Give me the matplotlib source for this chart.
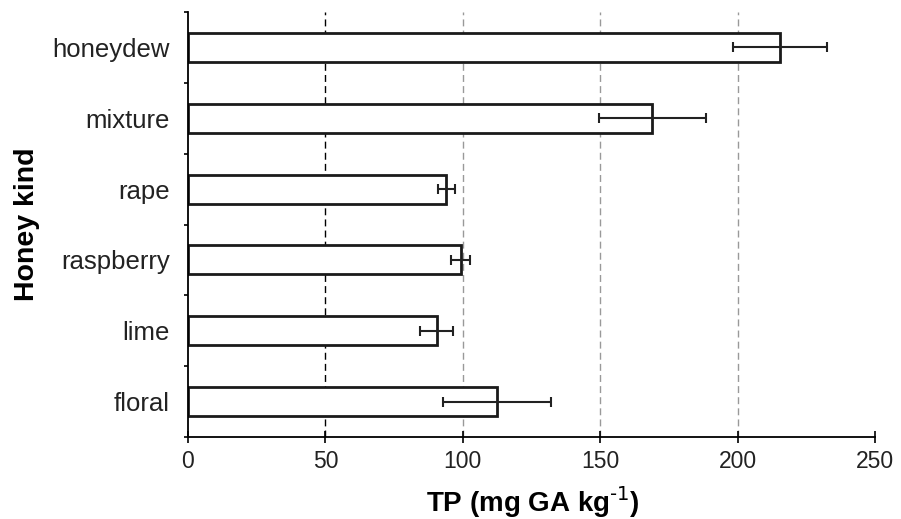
import matplotlib as mpl
import matplotlib.pyplot as plt
import numpy as np

kinds = ['honeydew', 'mixture', 'rape', 'raspberry', 'lime', 'floral']
tp = [215.5, 169.0, 94.0, 99.3, 90.5, 112.4]
tp_err = [17.0, 19.5, 3.0, 3.5, 6.0, 19.6]
xticks = [0, 50, 100, 150, 200, 250]

plt.rcParams['font.family'] = ['Liberation Sans', 'DejaVu Sans']

fig = plt.figure(figsize=(9.01, 5.19), dpi=100, facecolor='white')
ax = fig.add_axes([188 / 901, 1 - 437 / 519, 687 / 901, 425 / 519])

pos = np.arange(len(kinds))

# grid lines behind the bars
for x in xticks[1:-1]:
    col = 'black' if x == 50 else '#999999'
    ax.axvline(x, color=col, linestyle=(0, (5, 3)), linewidth=1.0, zorder=0)

ax.barh(pos, tp, height=0.41, color='white', edgecolor='#1a1a1a',
        linewidth=2.0, zorder=2)
ax.errorbar(tp, pos, xerr=tp_err, fmt='none', ecolor='#222222',
            elinewidth=1.5, capsize=3.5, capthick=1.5, zorder=3)

ax.set_xlim(0, 250)
ax.set_ylim(len(kinds) - 0.5, -0.5)
ax.set_xticks(xticks)
ax.set_yticks(pos)
ax.set_yticklabels(kinds, color='#222222')
ax.set_yticks(np.arange(len(kinds) + 1) - 0.5, minor=True)

ax.spines['top'].set_visible(False)
ax.spines['right'].set_visible(False)
ax.spines['left'].set_linewidth(1.3)
ax.spines['bottom'].set_linewidth(1.3)

ax.tick_params(axis='x', direction='inout', length=8, width=1.2,
               labelsize=16.5, pad=5, labelcolor='#222222')
ax.tick_params(axis='y', which='major', length=0, labelsize=18.5, pad=13)
ax.tick_params(axis='y', which='minor', direction='out', length=3, width=1.2)

ax.set_xlabel('TP (mg GA kg$^{\\text{-1}}$)', fontsize=20,
              fontweight='bold')
ax.xaxis.set_label_coords(0.502, -0.11)
ax.set_ylabel('Honey kind', fontsize=20.5, fontweight='bold')
ax.yaxis.set_label_coords(-0.215, 0.5)

fig.savefig('out.png', dpi=100, facecolor='white')
